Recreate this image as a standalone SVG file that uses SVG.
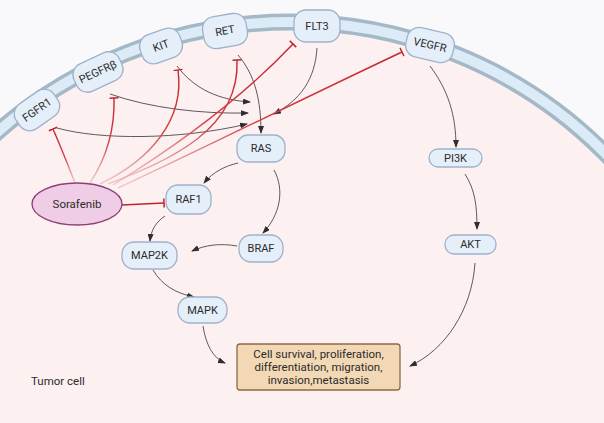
<svg xmlns="http://www.w3.org/2000/svg" width="604" height="423" viewBox="0 0 604 423">
<style>
.nd rect{fill:#e5eff9;stroke:#9fb2cb;stroke-width:1.3}
.nd text{font-family:Roboto,"Liberation Sans",sans-serif;font-size:11px;fill:#2b2b2b;text-anchor:middle;dominant-baseline:central}
.ar{fill:none;stroke:#4a4a4a;stroke-width:0.9;marker-end:url(#ah)}
.inh{fill:none;stroke:url(#rg);stroke-width:1.4;marker-end:url(#tb)}
.lbl{font-family:Roboto,"Liberation Sans",sans-serif;font-size:11.5px;fill:#2b2b2b;text-anchor:middle}
</style>
<defs>
<marker id="ah" viewBox="0 0 8 6" refX="7" refY="3" markerWidth="8" markerHeight="6" markerUnits="userSpaceOnUse" orient="auto">
<path d="M0,0 L8,3 L0,6 z" fill="#2e2e2e"/>
</marker>
<marker id="tb" viewBox="-1 -5 2 10" refX="0" refY="0" markerWidth="2" markerHeight="10" markerUnits="userSpaceOnUse" orient="auto">
<path d="M0,-4.5 L0,4.5" stroke="#c4232b" stroke-width="1.5"/>
</marker>
<linearGradient id="rg" x1="0" y1="1" x2="0" y2="0">
<stop offset="0" stop-color="#e9a0a4" stop-opacity="0.5"/>
<stop offset="0.45" stop-color="#d2434a"/>
<stop offset="1" stop-color="#c4232b"/>
</linearGradient>
</defs>
<rect width="604" height="423" fill="#f9f9fb"/>
<g id="membrane">
<circle cx="290" cy="466" r="444" fill="#fdf0f0"/>
<circle cx="290" cy="466" r="444" fill="none" stroke="#a5b8c6" stroke-width="17"/>
<circle cx="290" cy="466" r="444" fill="none" stroke="#dbecf8" stroke-width="10"/>
</g>
<text x="31" y="385" font-family="Roboto,'Liberation Sans',sans-serif" font-size="11.5" fill="#2b2b2b">Tumor cell</text>
<g id="connectors">
<path class="ar" d="M57,128 C100,140 180,140 247,124"/>
<path class="ar" d="M110,94 C150,108 200,114 248,113"/>
<path class="ar" d="M177,66 C195,90 220,100 250,102"/>
<path class="ar" d="M238,55 C255,75 261,100 261,133"/>
<path class="ar" d="M317,48 C315,80 300,100 274,114"/>
<path class="ar" d="M430,66 C448,90 456,115 456,147"/>
<path class="ar" d="M465,174 C475,190 477,205 477,229"/>
<path class="ar" d="M475,263 C472,310 445,350 410,366"/>
<path class="ar" d="M238,163 C225,166 213,172 204,183"/>
<path class="ar" d="M274,170 C285,190 280,215 263,233"/>
<path class="ar" d="M165,216 C156,222 151,230 150,241"/>
<path class="ar" d="M237,246 C220,243 205,245 192,251"/>
<path class="ar" d="M153,270 C162,285 175,293 194,297"/>
<path class="ar" d="M203,326 C206,345 213,358 225,363"/>
<path class="inh" d="M75,183 C68,165 60,145 53,129"/>
<path class="inh" d="M90,183 C105,160 115,130 114,98"/>
<path class="inh" d="M100,184 C150,160 185,120 178,70"/>
<path class="inh" d="M108,184 C170,160 240,130 237,60"/>
<path class="inh" d="M113,185 C170,150 240,100 293,44"/>
<path class="inh" d="M118,188 C200,150 300,100 402,52"/>
<path d="M122,205 L164,203" fill="none" stroke="#c4232b" stroke-width="1.4" marker-end="url(#tb)"/>
</g>
<g id="FGFR1" class="nd" transform="translate(37,110) rotate(-35)"><rect x="-23" y="-15" width="46" height="30" rx="12"/><text>FGFR1</text></g>
<g id="PEGFRb" class="nd" transform="translate(98,72) rotate(-25)"><rect x="-25" y="-15" width="50" height="30" rx="12"/><text>PEGFRβ</text></g>
<g id="KIT" class="nd" transform="translate(161,46) rotate(-20)"><rect x="-21" y="-15" width="42" height="30" rx="12"/><text>KIT</text></g>
<g id="RET" class="nd" transform="translate(225,31) rotate(-10)"><rect x="-22" y="-16" width="44" height="32" rx="12"/><text>RET</text></g>
<g id="FLT3" class="nd" transform="translate(317,26)"><rect x="-23" y="-16" width="46" height="32" rx="12"/><text>FLT3</text></g>
<g id="VEGFR" class="nd" transform="translate(430,45) rotate(13)"><rect x="-24" y="-15" width="48" height="30" rx="12"/><text>VEGFR</text></g>
<g id="RAS" class="nd"><rect x="237" y="135" width="48" height="27" rx="11"/><text x="261" y="148.5">RAS</text></g>
<g id="RAF1" class="nd"><rect x="166" y="185" width="45" height="29" rx="12"/><text x="188.5" y="199.5">RAF1</text></g>
<g id="MAP2K" class="nd"><rect x="122" y="242" width="55" height="27" rx="12"/><text x="149.5" y="255.5">MAP2K</text></g>
<g id="BRAF" class="nd"><rect x="239" y="235" width="44" height="27" rx="12"/><text x="261" y="248.5">BRAF</text></g>
<g id="MAPK" class="nd"><rect x="178" y="297" width="49" height="26" rx="12"/><text x="202.5" y="310">MAPK</text></g>
<g id="PI3K" class="nd"><rect x="429" y="149" width="53" height="18" rx="9"/><text x="455.5" y="158">PI3K</text></g>
<g id="AKT" class="nd"><rect x="445" y="235" width="51" height="19" rx="9"/><text x="470.5" y="244.5">AKT</text></g>
<g id="Sorafenib"><ellipse cx="77" cy="204" rx="45" ry="21" fill="#f0cde6" stroke="#8d3f76" stroke-width="1.3"/><text x="77" y="208" class="lbl" font-size="11.5">Sorafenib</text></g>
<g id="Outcome"><rect x="237" y="344" width="163" height="46" rx="3" fill="#f2d8b5" stroke="#8c6a46" stroke-width="1.3"/>
<text class="lbl" x="318.5" y="358">Cell survival, proliferation,</text>
<text class="lbl" x="318.5" y="371">differentiation, migration,</text>
<text class="lbl" x="318.5" y="384">invasion,metastasis</text></g>
</svg>
